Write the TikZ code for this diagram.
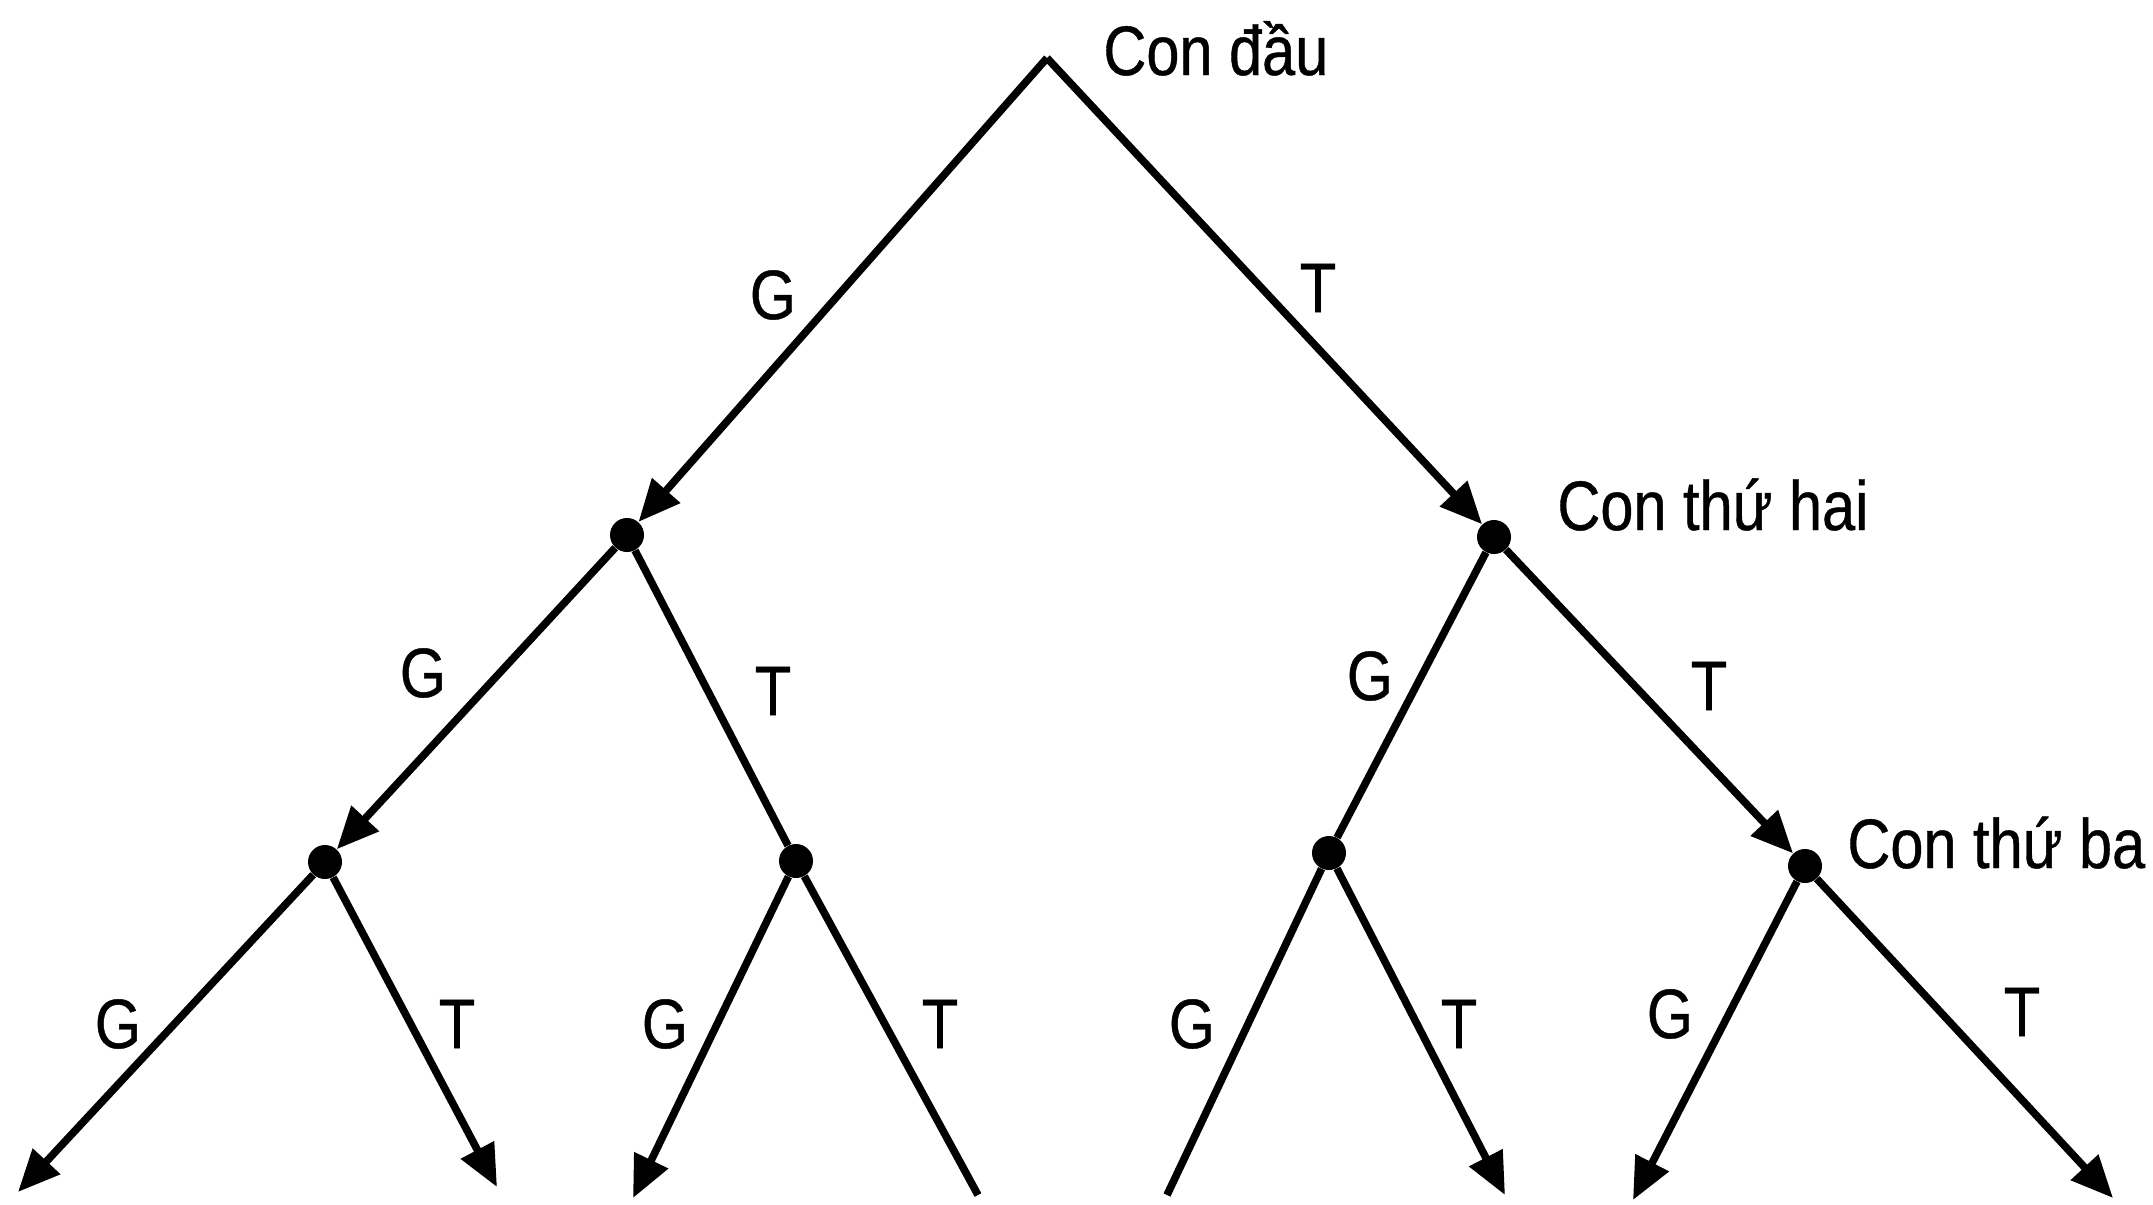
\documentclass[tikz,border=0pt]{standalone}
\usepackage{fontspec}
\setmainfont{Liberation Sans}[FakeStretch=0.85,FakeBold=0.6]
\usetikzlibrary{arrows.meta}
\tikzset{
  dot/.style={circle,fill=black,inner sep=0pt,minimum size=17pt},
  edge/.style={line width=3.8pt},
  arr/.style={edge,-{Triangle[length=21pt,width=18pt]}},
  lbl/.style={inner sep=0pt,font=\fontsize{35pt}{42pt}\selectfont},
}
\begin{document}
\begin{tikzpicture}[x=0.5pt,y=-0.5pt]
\useasboundingbox (0,0) rectangle (2153,1205);
% nodes
\coordinate (r) at (1047,58);
\node[dot] (a) at (627,535) {};
\node[dot] (b) at (1494,537) {};
\node[dot] (c) at (325,862) {};
\node[dot] (d) at (796,861) {};
\node[dot] (e) at (1329,853) {};
\node[dot] (f) at (1805,866) {};
\coordinate (l1) at (18,1192);
\coordinate (l2) at (497,1187);
\coordinate (l3) at (633,1198);
\coordinate (l4) at (978,1195);
\coordinate (l5) at (1167,1195);
\coordinate (l6) at (1505,1195);
\coordinate (l7) at (1633,1200);
\coordinate (l8) at (2113,1198);
% edges
\draw[arr] (r) -- (a);
\draw[arr] (r) -- (b);
\draw[arr] (a) -- (c);
\draw[edge] (a) -- (d);
\draw[edge] (b) -- (e);
\draw[arr] (b) -- (f);
\draw[arr] (c) -- (l1);
\draw[arr] (c) -- (l2);
\draw[arr] (d) -- (l3);
\draw[edge] (d) -- (l4);
\draw[edge] (e) -- (l5);
\draw[arr] (e) -- (l6);
\draw[arr] (f) -- (l7);
\draw[arr] (f) -- (l8);
% names
\node[lbl,anchor=base west] (n0) at (1103,75) {Con đầu};
\node[lbl,anchor=base west] (n1) at (1557,530) {Con thứ hai};
\node[lbl,anchor=base west] (n2) at (1847,868) {Con thứ ba};
% branch labels
\node[lbl] (g1) at (773,295) {G};
\node[lbl] (t1) at (1318,288) {T};
\node[lbl] (g2) at (423,673) {G};
\node[lbl] (t2) at (773,691) {T};
\node[lbl] (g3) at (1370,676) {G};
\node[lbl] (t3) at (1709,686) {T};
\node[lbl] (g4) at (118,1024) {G};
\node[lbl] (t4) at (457,1024) {T};
\node[lbl] (g5) at (665,1024) {G};
\node[lbl] (t5) at (940,1024) {T};
\node[lbl] (g6) at (1192,1024) {G};
\node[lbl] (t6) at (1459,1024) {T};
\node[lbl] (g7) at (1670,1014) {G};
\node[lbl] (t7) at (2022,1012) {T};
\end{tikzpicture}
\end{document}
